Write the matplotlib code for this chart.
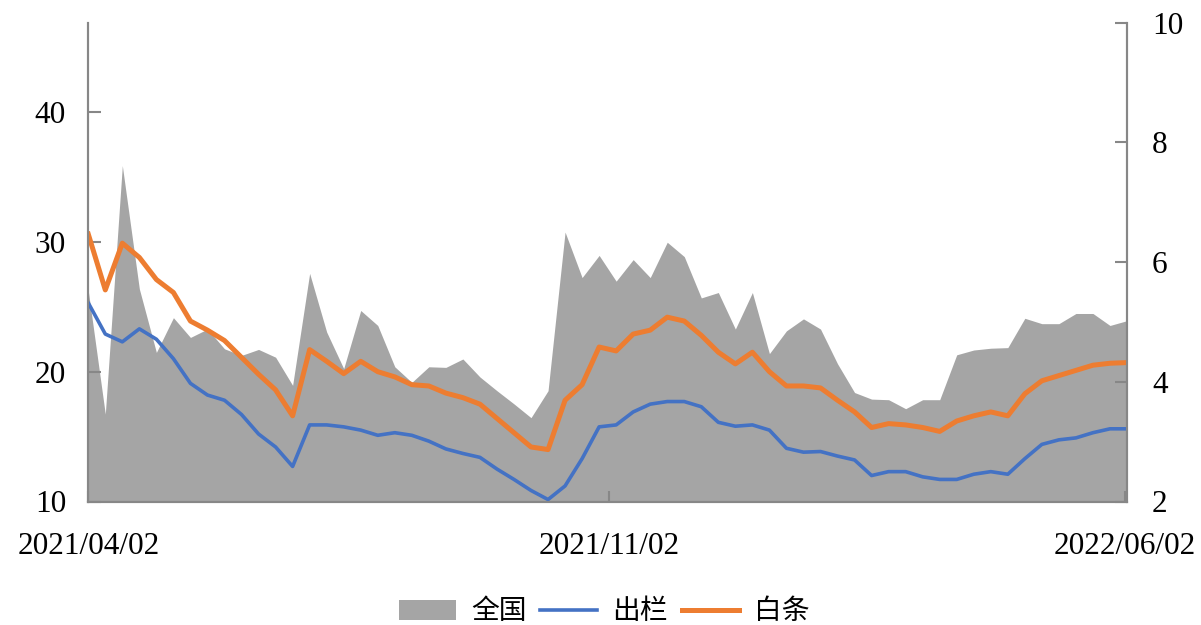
import matplotlib
matplotlib.use("Agg")
import matplotlib.pyplot as plt
from matplotlib.patches import Patch
from matplotlib.lines import Line2D

plt.rcParams['font.family'] = ['Liberation Serif', 'Noto Sans CJK SC', 'DejaVu Sans']

# weekly observations from 2021/04/02 (day offsets)
days = [7 * i for i in range(62)]
tick_days = [0, 214, 426]
tick_labels = ['2021/04/02', '2021/11/02', '2022/06/02']

# 全国 (right axis)
national = [5.52, 3.46, 7.61, 5.55, 4.49, 5.07, 4.74, 4.88, 4.55, 4.44,
            4.54, 4.41, 3.94, 5.81, 4.83, 4.22, 5.19, 4.94, 4.25, 3.99,
            4.25, 4.24, 4.38, 4.08, 3.85, 3.63, 3.40, 3.85, 6.50, 5.74,
            6.11, 5.68, 6.04, 5.74, 6.33, 6.09, 5.40, 5.49, 4.88, 5.49,
            4.47, 4.85, 5.05, 4.88, 4.30, 3.82, 3.71, 3.70, 3.55, 3.70,
            3.70, 4.45, 4.53, 4.56, 4.57, 5.06, 4.97, 4.97, 5.14, 5.14,
            4.94, 5.02]

# 出栏 (left axis)
chulan = [25.3, 22.9, 22.3, 23.3, 22.5, 21.0, 19.1, 18.2, 17.8, 16.7,
          15.2, 14.2, 12.7, 15.9, 15.9, 15.75, 15.5, 15.1, 15.3, 15.1,
          14.65, 14.05, 13.7, 13.4, 12.5, 11.7, 10.85, 10.15, 11.2, 13.3,
          15.75, 15.9, 16.9, 17.5, 17.7, 17.7, 17.3, 16.1, 15.8, 15.9,
          15.5, 14.1, 13.8, 13.85, 13.5, 13.2, 12.0, 12.3, 12.3, 11.9,
          11.7, 11.7, 12.1, 12.3, 12.1, 13.3, 14.4, 14.75, 14.9, 15.3,
          15.6, 15.6]

# 白条 (left axis)
baitiao = [30.6, 26.3, 29.9, 28.8, 27.1, 26.1, 23.9, 23.2, 22.4, 21.1,
           19.8, 18.6, 16.6, 21.7, 20.8, 19.85, 20.8, 20.0, 19.6, 19.0,
           18.9, 18.35, 18.0, 17.5, 16.4, 15.3, 14.2, 14.0, 17.8, 19.0,
           21.9, 21.6, 22.9, 23.2, 24.2, 23.9, 22.8, 21.5, 20.6, 21.5,
           20.0, 18.9, 18.9, 18.75, 17.8, 16.9, 15.7, 16.0, 15.9, 15.7,
           15.4, 16.2, 16.6, 16.9, 16.6, 18.3, 19.3, 19.7, 20.1, 20.5,
           20.65, 20.7]

gray = '#A5A5A5'
blue = '#4472C4'
orange = '#ED7D31'
spine_c = '#878787'

fig = plt.figure(figsize=(12.01, 6.25), dpi=100)
ax = fig.add_axes([0.0735, 0.1976, 0.8649, 0.7664])
ax2 = ax.twinx()

ax2.fill_between(days, 2, national, color=gray, linewidth=0)
ax.plot(days, chulan, color=blue, linewidth=2.6)
ax.plot(days, baitiao, color=orange, linewidth=3.6)

ax.set_zorder(ax2.get_zorder() + 1)
ax.patch.set_visible(False)

ax.set_xlim(0, 427)
ax.set_ylim(10, 46.9)
ax2.set_ylim(2, 10)
ax.set_yticks([10, 20, 30, 40])
ax2.set_yticks([2, 4, 6, 8, 10])
ax.set_xticks(tick_days)
ax.set_xticklabels(tick_labels)

for a in (ax, ax2):
    for s in a.spines.values():
        s.set_color(spine_c)
        s.set_linewidth(1.5)
    a.spines['top'].set_visible(False)

ax.tick_params(axis='y', direction='in', length=9, width=1.5, color=spine_c,
               labelsize=22.5, pad=16)
ax2.tick_params(axis='y', direction='in', length=9, width=1.5, color=spine_c,
                labelsize=22.5, pad=18)
ax.tick_params(axis='x', direction='in', length=8, width=1.5, color=spine_c,
               labelsize=22.5, pad=22)

handles = [Patch(facecolor=gray, edgecolor='none'),
           Line2D([], [], color=blue, linewidth=2.6),
           Line2D([], [], color=orange, linewidth=3.6)]
fig.legend(handles, ['全国', '出栏', '白条'], loc='center', bbox_to_anchor=(0.503, 0.02),
           ncol=3, frameon=False, fontsize=20, handlelength=2.05, handleheight=0.75,
           handletextpad=0.55, columnspacing=0.5)

fig.savefig('out.png', dpi=100)
